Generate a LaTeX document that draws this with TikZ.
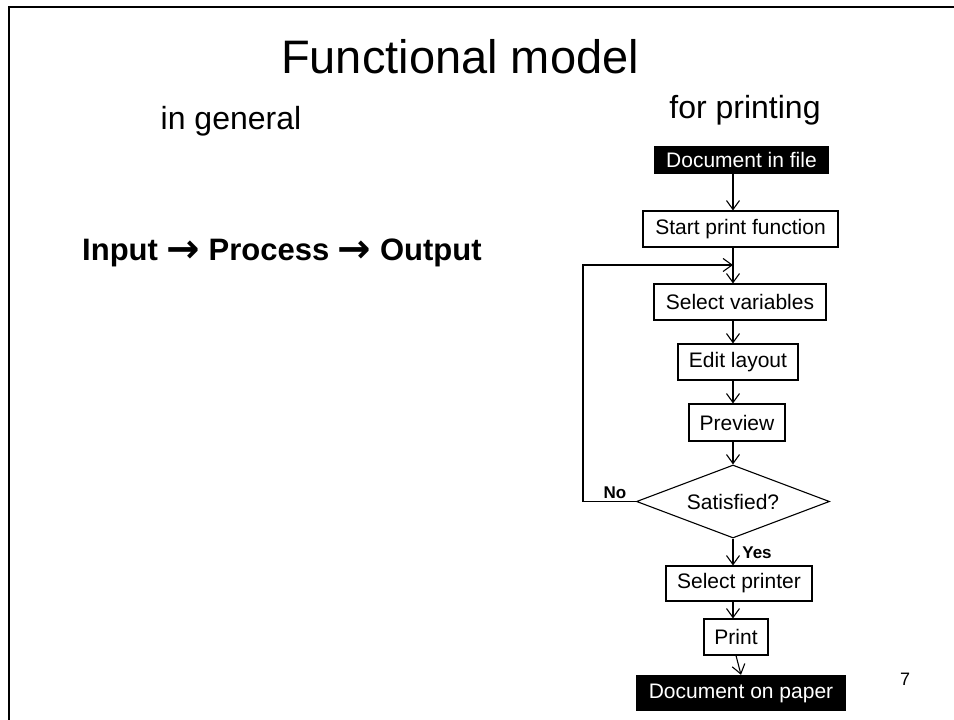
\documentclass[tikz,border=0pt]{standalone}
\usepackage{fontspec}
\setmainfont{Liberation Sans}
\newfontfamily\arrowfont{DejaVu Sans}
\usetikzlibrary{shapes.geometric,arrows.meta}
\begin{document}
\begin{tikzpicture}[x=1pt,y=-1pt,
		flowbox/.style={draw,line width=1.1pt,inner sep=0pt,minimum height=36pt},
		termbox/.style={fill=black,text=white,inner sep=0pt,minimum height=36pt},
		decision/.style={draw,diamond,aspect=2.64,line width=1.1pt,inner sep=0pt,minimum width=193pt,minimum height=73pt},
		arr/.style={line width=1.1pt,-{Straight Barb[length=9pt,width=13pt,line width=1.1pt]}},
		frameline/.style={line width=2pt}]
		\newcommand{\myfontbox}[1]{
			\fontsize{21}{25}\selectfont{#1}
		}\newcommand{\myfontlabel}[1]{
			\fontsize{17}{20}\selectfont\bfseries{#1}
		}\newcommand{\myarrow}{%
			\raisebox{-2pt}{\arrowfont\fontsize{40}{40}\selectfont →}%
		}%Outer hull
		\useasboundingbox (0,0) rectangle (954,720);
		\fill[white] (0,0) rectangle (954,720);
		%Frame of the slide
		\coordinate (frameTop0) at (8,7);
		\coordinate (frameTop1) at (954,7);
		\coordinate (frameLeft0) at (9,6);
		\coordinate (frameLeft1) at (9,720);
		\draw[frameline] (frameTop0) -- (frameTop1);
		\draw[frameline] (frameLeft0) -- (frameLeft1);
		%Headings
		\node [anchor=base,inner sep=0pt] (title) at (460,73) {\fontsize{47}{54}\selectfont Functional model};
		\node [anchor=base,inner sep=0pt] (general) at (231,129) {\fontsize{32}{38}\selectfont in general};
		\node [anchor=base,inner sep=0pt] (printing) at (745,118) {\fontsize{32}{38}\selectfont for printing};
		%In general
		\node [anchor=base west,inner sep=0pt] (ipo) at (82,260) {\fontsize{31}{36}\selectfont\bfseries Input \myarrow{} Process \myarrow{} Output};
		%Boxes of the flow
		\coordinate (centerFile) at (741.5,160);
		\coordinate (centerStart) at (740.5,229);
		\coordinate (centerVars) at (740,302);
		\coordinate (centerEdit) at (738,362);
		\coordinate (centerPreview) at (737,422.5);
		\coordinate (centerSatisfied) at (733,501.5);
		\coordinate (centerPrinter) at (739,583.5);
		\coordinate (centerPrint) at (736,637);
		\coordinate (centerPaper) at (741,693);
		\node [termbox,minimum width=175pt,minimum height=28pt] (file) at (centerFile) {\myfontbox{Document in file}};
		\node [flowbox,minimum width=195pt] (start) at (centerStart) {\myfontbox{Start print function}};
		\node [flowbox,minimum width=172pt] (vars) at (centerVars) {\myfontbox{Select variables}};
		\node [flowbox,minimum width=120pt] (edit) at (centerEdit) {\myfontbox{Edit layout}};
		\node [flowbox,minimum width=96pt,minimum height=37pt] (preview) at (centerPreview) {\myfontbox{Preview}};
		\node [decision] (satisfied) at (centerSatisfied) {\myfontbox{Satisfied?}};
		\node [flowbox,minimum width=146pt,minimum height=35pt] (printer) at (centerPrinter) {\myfontbox{Select printer}};
		\node [flowbox,minimum width=64pt] (print) at (centerPrint) {\myfontbox{Print}};
		\node [termbox,minimum width=210pt] (paper) at (centerPaper) {\myfontbox{Document on paper}};
		%Arrows down the flow
		\coordinate (spine) at (733,0);
		\coordinate (join) at (733,265);
		\draw[arr] (spine |- file.south) -- (spine |- start.north);
		\draw[arr] (spine |- start.south) -- (spine |- vars.north);
		\draw[arr] (spine |- vars.south) -- (spine |- edit.north);
		\draw[arr] (spine |- edit.south) -- (spine |- preview.north);
		\draw[arr] (spine |- preview.south) -- (satisfied.north);
		\draw[arr] (satisfied.south) -- (spine |- printer.north);
		\draw[arr] (spine |- printer.south) -- (spine |- print.north);
		\draw[arr] (print.south) -- (paper.north);
		%Loop back
		\draw[arr] (satisfied.west) -- ++(-53,0) |- (join);
		\node [anchor=base,inner sep=0pt] (no) at (615,498) {\myfontlabel{No}};
		\node [anchor=base,inner sep=0pt] (yes) at (757,558) {\myfontlabel{Yes}};
		%Page number
		\node [anchor=base,inner sep=0pt] (page) at (905,685) {\fontsize{18}{21}\selectfont 7};
\end{tikzpicture}
\end{document}
